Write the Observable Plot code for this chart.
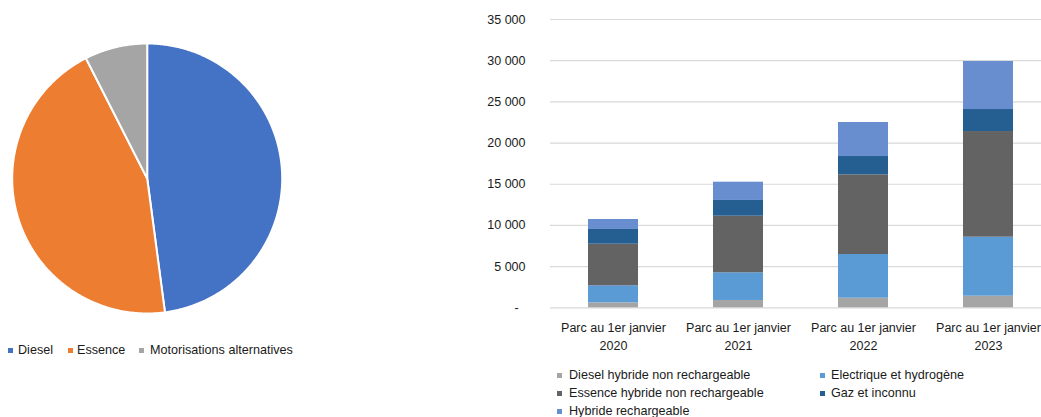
<!DOCTYPE html>
<html>
<head>
<meta charset="utf-8">
<script src="https://cdn.jsdelivr.net/npm/d3@7"></script>
<script src="https://cdn.jsdelivr.net/npm/@observablehq/plot@0.6"></script>
<style>
  html, body { margin: 0; padding: 0; background: #fff; overflow: hidden; width: 1041px; height: 417px; }
  body { position: relative; font-family: "Liberation Sans", Arial, sans-serif; color: #1a1a1a; }
  #pie { position: absolute; left: 0; top: 0; width: 300px; }
  #bars { position: absolute; left: 460px; top: 0; width: 600px; }
  #pie svg, #bars svg { max-width: none !important; }
  .leg { position: absolute; font-size: 12.6px; line-height: 14px; white-space: nowrap; color: #1a1a1a; }
  .sw { position: absolute; width: 5px; height: 5px; }
</style>
</head>
<body>
<div id="pie"></div>
<div id="bars"></div>
<script>
// ---- Pie data ----
const pieCategories = ["Diesel", "Essence", "Motorisations alternatives"];
const pieShares = [47.9, 44.6, 7.5];
const pieColors = ["#4472C4", "#ED7D31", "#A5A5A5"];

// ---- Bar data ----
const years = ["2020", "2021", "2022", "2023"];
const yearLabels = years.map(y => "Parc au 1er janvier\n" + y);
const seriesNames = [
  "Diesel hybride non rechargeable",
  "Electrique et hydrogène",
  "Essence hybride non rechargeable",
  "Gaz et inconnu",
  "Hybride rechargeable"
];
const dieselHybride = [600, 890, 1165, 1410];
const electrique = [2070, 3360, 5305, 7160];
const essenceHybride = [5050, 6870, 9675, 12830];
const gaz = [1790, 1910, 2220, 2670];
const hybrideRech = [1210, 2220, 4130, 5830];
const seriesColors = ["#A5A5A5", "#5B9BD5", "#636363", "#255E91", "#698ED0"];
const yTicks = [0, 5000, 10000, 15000, 20000, 25000, 30000, 35000];

// ---- Pie chart (slices built from d3.pie angles, drawn through Plot scales) ----
const arcs = d3.pie().sort(null).value(d => d.v)(pieCategories.map((c, i) => ({c, v: pieShares[i]})));
const pts = [];
arcs.forEach(a => {
  const n = Math.max(2, Math.ceil((a.endAngle - a.startAngle) / 0.01));
  pts.push({name: a.data.c, x: 0, y: 0});
  for (let k = 0; k <= n; k++) {
    const t = a.startAngle + (a.endAngle - a.startAngle) * k / n;
    pts.push({name: a.data.c, x: Math.sin(t), y: Math.cos(t)});
  }
  pts.push({name: a.data.c, x: 0, y: 0});
});
const pie = Plot.plot({
  width: 300, height: 330,
  margin: 0,
  x: {domain: [-1, 1], range: [11.7, 281.7], axis: null},
  y: {domain: [-1, 1], range: [313, 43], axis: null},
  color: {domain: pieCategories, range: pieColors},
  marks: [
    Plot.line(pts, {x: "x", y: "y", z: "name", fill: "name", stroke: "white", strokeWidth: 2, strokeLinejoin: "round"})
  ]
});
document.getElementById("pie").appendChild(pie);

// Pie legend
const pieLegPos = [[8, 18], [68, 77], [139, 150]];
pieCategories.forEach((c, i) => {
  const s = document.createElement("div");
  s.className = "sw"; s.style.left = pieLegPos[i][0] + "px"; s.style.top = "348px"; s.style.background = pieColors[i];
  document.body.appendChild(s);
  const t = document.createElement("div");
  t.className = "leg"; t.style.left = pieLegPos[i][1] + "px"; t.style.top = "343px"; t.textContent = c;
  document.body.appendChild(t);
});

// ---- Stacked bar chart ----
const seriesVals = [dieselHybride, electrique, essenceHybride, gaz, hybrideRech];
const rows = [];
seriesNames.forEach((s, si) => years.forEach((y, yi) => rows.push({year: yearLabels[yi], series: s, value: seriesVals[si][yi]})));

const bars = Plot.plot({
  width: 600, height: 360,
  marginLeft: 90, marginRight: 10, marginTop: 19, marginBottom: 52.7,
  style: {fontFamily: "Liberation Sans, Arial, sans-serif", fontSize: "12.5px", color: "#1a1a1a", background: "transparent"},
  x: {domain: yearLabels, paddingInner: 0.6, paddingOuter: 0.3, label: null},
  y: {domain: [0, 35000], label: null},
  color: {domain: seriesNames, range: seriesColors},
  marks: [
    Plot.gridY(yTicks, {stroke: "#d9d9d9", strokeOpacity: 1, strokeWidth: 1.2}),
    Plot.barY(rows, {x: "year", y: "value", fill: "series", order: seriesNames}),
    Plot.axisY(yTicks, {tickSize: 0, tickPadding: 25, fontSize: 12.5, fill: "#1a1a1a",
      tickFormat: d => d === 0 ? "-\u00a0\u00a0" : d3.format(",")(d).replace(/,/g, "\u00a0"), label: null}),
    Plot.axisX({tickSize: 0, tickPadding: 12, fontSize: 12.5, fill: "#1a1a1a", lineHeight: 1.42, label: null})
  ]
});
document.getElementById("bars").appendChild(bars);

// Bar legend
const barLegPos = [[557, 569, 368], [820, 831, 368], [557, 569, 386], [820, 831, 386], [557, 569, 404]];
seriesNames.forEach((s, i) => {
  const [sx, tx, ty] = barLegPos[i];
  const sq = document.createElement("div");
  sq.className = "sw"; sq.style.left = sx + "px"; sq.style.top = (ty + 5) + "px"; sq.style.background = seriesColors[i];
  document.body.appendChild(sq);
  const t = document.createElement("div");
  t.className = "leg"; t.style.left = tx + "px"; t.style.top = ty + "px"; t.textContent = s;
  document.body.appendChild(t);
});
</script>
</body>
</html>
